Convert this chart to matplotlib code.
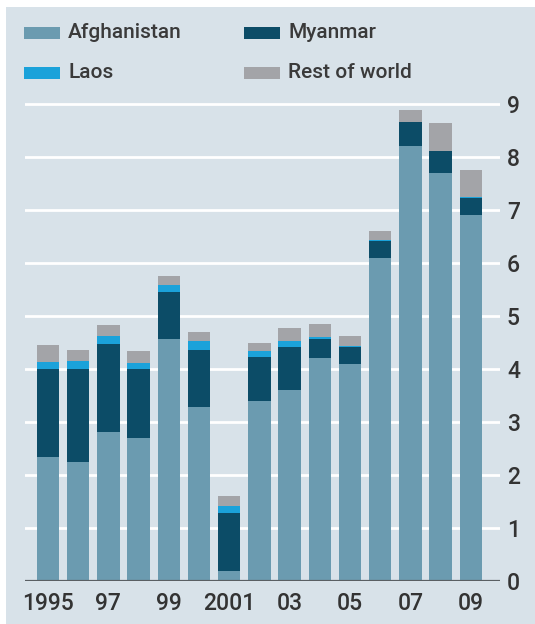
import matplotlib
matplotlib.use("Agg")
import matplotlib.pyplot as plt
from matplotlib.patches import Rectangle
import numpy as np

years = [1995, 1996, 1997, 1998, 1999, 2000, 2001, 2002, 2003, 2004, 2005, 2006, 2007, 2008, 2009]
afghanistan = [2.335, 2.248, 2.804, 2.693, 4.565, 3.276, 0.185, 3.400, 3.600, 4.200, 4.100, 6.100, 8.200, 7.700, 6.900]
myanmar = [1.664, 1.760, 1.676, 1.303, 0.895, 1.087, 1.097, 0.828, 0.810, 0.370, 0.312, 0.315, 0.460, 0.410, 0.330]
laos = [0.128, 0.140, 0.147, 0.124, 0.124, 0.167, 0.134, 0.112, 0.120, 0.043, 0.014, 0.020, 0.009, 0.010, 0.011]
rest_of_world = [0.325, 0.208, 0.196, 0.226, 0.180, 0.161, 0.180, 0.151, 0.235, 0.237, 0.194, 0.175, 0.221, 0.521, 0.513]
series_names = ["Afghanistan", "Myanmar", "Laos", "Rest of world"]
xtick_years = [1995, 1997, 1999, 2001, 2003, 2005, 2007, 2009]
xtick_labels = ["1995", "97", "99", "2001", "03", "05", "07", "09"]
yticks = [0, 1, 2, 3, 4, 5, 6, 7, 8, 9]

colors = ["#6b9bb0", "#0c4c67", "#1ba2da", "#a3a4a8"]
bg = "#d8e2e9"
font = ["Roboto", "DejaVu Sans"]
weight = "medium"

W, H = 535, 624
fig = plt.figure(figsize=(W / 100, H / 100), dpi=100)
fig.patch.set_facecolor("white")
fig.patches.append(Rectangle((6 / W, 0), 1 - 6 / W, 1 - 7 / H, transform=fig.transFigure,
                             facecolor=bg, edgecolor="none", zorder=-10))

# axes geometry (pixels)
x_left, x_right = 25, 500
y_zero, y_nine = 581, 104
unit = (y_zero - y_nine) / 9.0
ymax = 9.6
ax = fig.add_axes([x_left / W, (H - y_zero) / H, (x_right - x_left) / W, ymax * unit / H])
ax.patch.set_alpha(0)
ax.set_zorder(5)

pitch = 30.2
first_center = 48
xmin = years[0] - (first_center - x_left) / pitch
xmax = years[0] + (x_right - first_center) / pitch
ax.set_xlim(xmin, xmax)
ax.set_ylim(0, ymax)

series = [afghanistan, myanmar, laos, rest_of_world]
bottom = np.zeros(len(years))
for vals, c, name in zip(series, colors, series_names):
    ax.bar(years, vals, bottom=bottom, width=0.745, color=c, edgecolor="none", label=name, zorder=2)
    bottom += np.array(vals)

for s in ax.spines.values():
    s.set_visible(False)
ax.axhline(0, color="#5a5f63", lw=1.6, zorder=3)
ax.set_yticks(yticks)
ax.yaxis.tick_right()
ax.grid(axis="y", color="white", lw=2.0, zorder=1)
ax.set_axisbelow(True)
ax.tick_params(axis="y", length=0, pad=5, labelsize=16.5, labelcolor="#333333")
ax.set_xticks(xtick_years)
ax.set_xticklabels(xtick_labels)
ax.tick_params(axis="x", length=0, pad=8, labelsize=16.5, labelcolor="#333333")
for lab in ax.get_xticklabels() + ax.get_yticklabels():
    lab.set_fontfamily(font)
    lab.set_fontweight(weight)

# legend
leg_pos = [(24, 27), (244, 27), (24, 67), (244, 67)]
for (px, py), i in zip(leg_pos, range(4)):
    fig.patches.append(Rectangle((px / W, 1 - (py + 12) / H), 36 / W, 12 / H, transform=fig.transFigure,
                                 facecolor=colors[i], edgecolor="none", zorder=3))
    fig.text((px + 44) / W, 1 - (py + 5) / H, series_names[i], fontsize=15, color="#3a3a3a",
             va="center", ha="left", family=font, fontweight=weight)

fig.savefig("out.png", dpi=100)
